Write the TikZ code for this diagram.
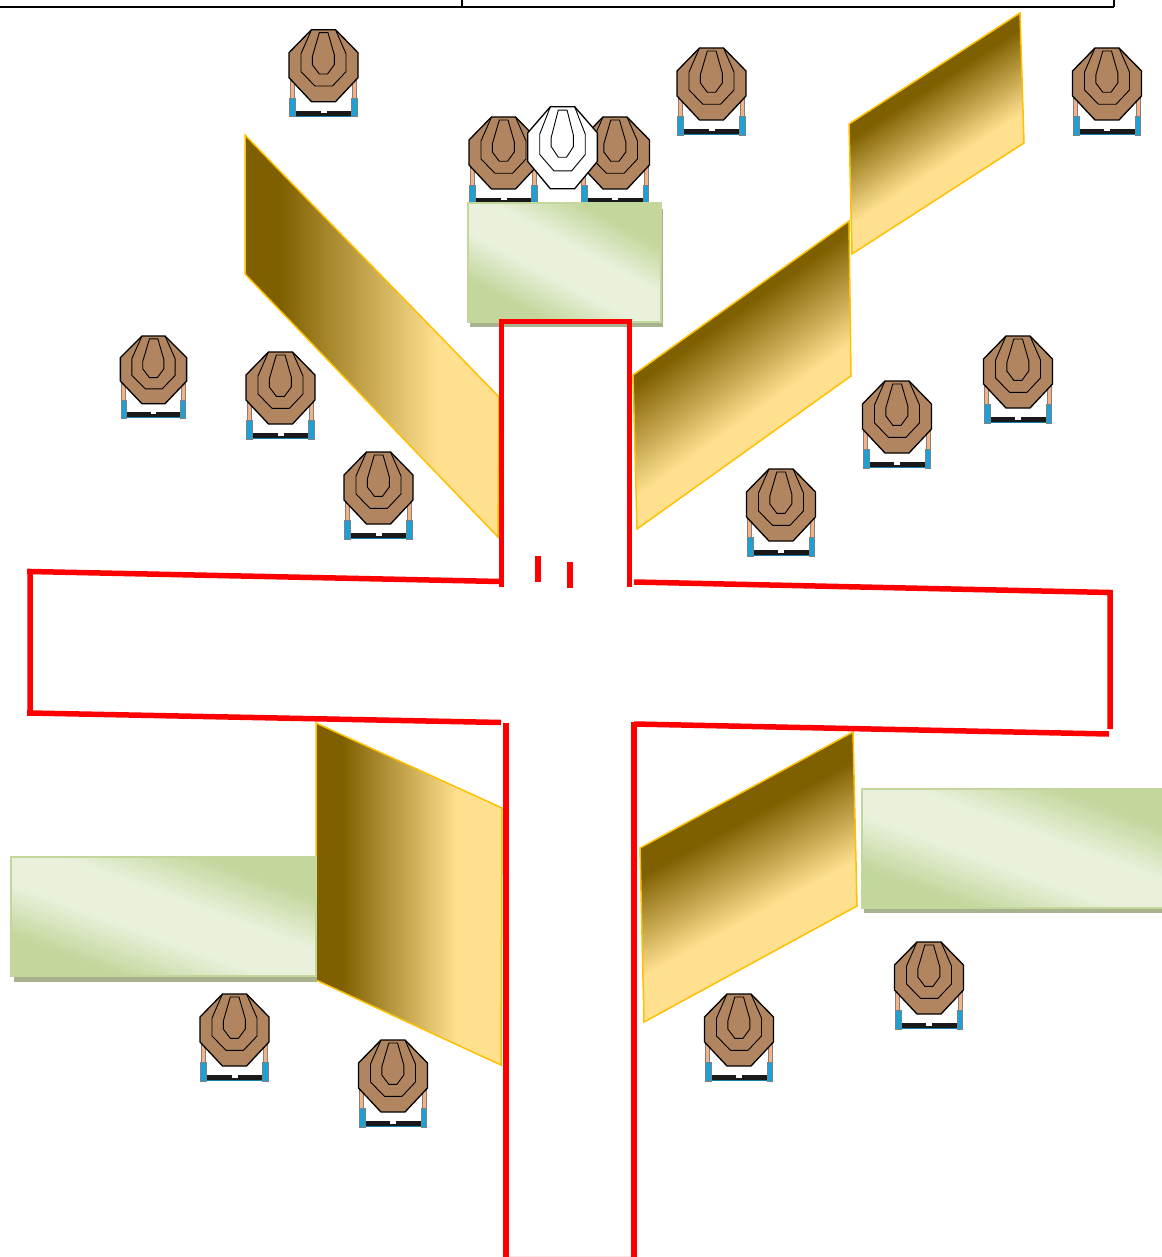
\documentclass[tikz,border=0pt]{standalone}
\definecolor{golddark}{HTML}{7F6000}
\definecolor{goldlight}{HTML}{FFE08F}
\definecolor{goldedge}{HTML}{FFC000}
\definecolor{leafdark}{HTML}{C3D69B}
\definecolor{leaflight}{HTML}{E9F1DC}
\definecolor{leafshadow}{HTML}{A9B28F}
\definecolor{targetbrown}{HTML}{B08560}
\definecolor{legpeach}{HTML}{F4B183}
\definecolor{legblue}{HTML}{1BA1D8}
\pgfdeclarehorizontalshading{goldh}{100bp}{color(0bp)=(golddark); color(32bp)=(golddark); color(63bp)=(goldlight); color(100bp)=(goldlight)}
\pgfdeclareverticalshading{goldv}{100bp}{color(0bp)=(goldlight); color(43bp)=(goldlight); color(60bp)=(golddark); color(100bp)=(golddark)}
\pgfdeclarehorizontalshading{leaf}{100bp}{color(0bp)=(leafdark); color(29bp)=(leafdark); color(44bp)=(leaflight); color(56bp)=(leaflight); color(71bp)=(leafdark); color(100bp)=(leafdark)}
\newcommand{\targetface}[1]{
	\draw[fill=#1,line width=1.3] (-12,0) -- (12,0) -- (34.5,23) -- (34.5,48) -- (12,72) -- (-12,72) -- (-34.5,48) -- (-34.5,23) -- cycle;
	\draw[line width=0.9] (-12,0) -- (-22.5,24) -- (-22.5,42) -- (-8.5,56.3) -- (9,56.3) -- (22.5,42) -- (22.5,24) -- (12,0);
	\draw[line width=0.9] (-4.2,3) -- (4.5,3) -- (10.8,25) -- (10.8,35) -- (4,44.3) -- (-4.2,44.3) -- (-11.2,35) -- (-11.2,27) -- cycle;
}
\tikzset{
	wall/.style={red,line width=5.5},
	panelh/.style={draw=goldedge,line width=1.5,shading=goldh},
	panelv/.style={draw=goldedge,line width=1.5,shading=goldv},
	block/.style={draw=leafdark,line width=2,shading=leaf,shading angle=70},
	pics/face/.style={code={\targetface{#1}}},
	pics/target/.style={code={
		\draw[fill=legpeach,draw=gray,line width=0.4] (-33.5,48) rectangle (-29.5,69);
		\draw[fill=legpeach,draw=gray,line width=0.4] (29,48) rectangle (33,69);
		\fill[black!90] (-28,81) rectangle (28,86);
		\fill[white] (-3,81) rectangle (3,83.5);
		\draw[legblue!80!black,line width=1] (-28,86.5) -- (28,86.5);
		\draw[fill=legblue,draw=gray,line width=0.4] (-34,68.5) rectangle (-28,87);
		\draw[fill=legblue,draw=gray,line width=0.4] (28,68.5) rectangle (33.5,87);
		\targetface{targetbrown}
	}},
}
\begin{document}
\begin{tikzpicture}[x=1pt,y=-1pt,line join=miter]
	\useasboundingbox (0,0) rectangle (1161,1257);
	% table edge at the top
	\draw[line width=1.6] (0,7) -- (1114,7) (462,0) -- (462,7) (1114,0) -- (1114,7);
	% targets
	\foreach \cx/\ty in {323.5/29.7,711.5/48,1107/48,503.5/117,615/117,280.5/352,378.5/452,897/381,1018/336,781/469,234.5/994,393/1040,739/994,929/942}
		\pic at (\cx,\ty) {target};
	\pic[xscale=0.96,yscale=0.94] at (153.5,336) {target};
	\pic[yscale=1.14,xscale=1.01] at (562.5,106.7) {face=white};
	% panels
	\path[panelh] (245,135) -- (245,274) -- (498,537) -- (499,397) -- cycle;
	\path[panelv,shading angle=33] (849,124) -- (1020,13) -- (1024,143) -- (852,254) -- cycle;
	\path[panelv,shading angle=35.5] (633,375) -- (849,221) -- (851,376) -- (637,529) -- cycle;
	\path[panelh] (316,723) -- (502,808) -- (501,1065) -- (316,980) -- cycle;
	\path[panelv,shading angle=28.6] (640,848) -- (853,732) -- (857,906) -- (644,1022) -- cycle;
	% blocks
	\fill[leafshadow] (470,209) rectangle (663,327);
	\path[block,shading angle=62] (468,203) rectangle (661,322);
	\fill[leafshadow] (14,860) rectangle (317,982);
	\path[block] (11,857) rectangle (316,976);
	\fill[leafshadow] (864,792) rectangle (1170,913);
	\path[block] (862,789) rectangle (1170,908);
	% walls
	\draw[wall] (501.5,587) -- (501.5,321.5) -- (629.5,321.5) -- (629.5,587);
	\draw[wall] (538,556) -- (538,581.5);
	\draw[wall] (570,562) -- (570,587.5);
	\draw[wall] (500,581.5) -- (30,571.5) -- (30,713) -- (501,722.5);
	\draw[wall] (27,571.5) -- (30,571.5);
	\draw[wall] (27,713) -- (30,713);
	\draw[wall] (634,582) -- (1110,592.5) -- (1110,729);
	\draw[wall] (634,724) -- (1109,734);
	\draw[wall] (506,723) -- (506,1257);
	\draw[wall] (634,721.5) -- (634,1257);
	\draw[red!10,line width=1] (509,1256.5) -- (631,1256.5);
\end{tikzpicture}
\end{document}
